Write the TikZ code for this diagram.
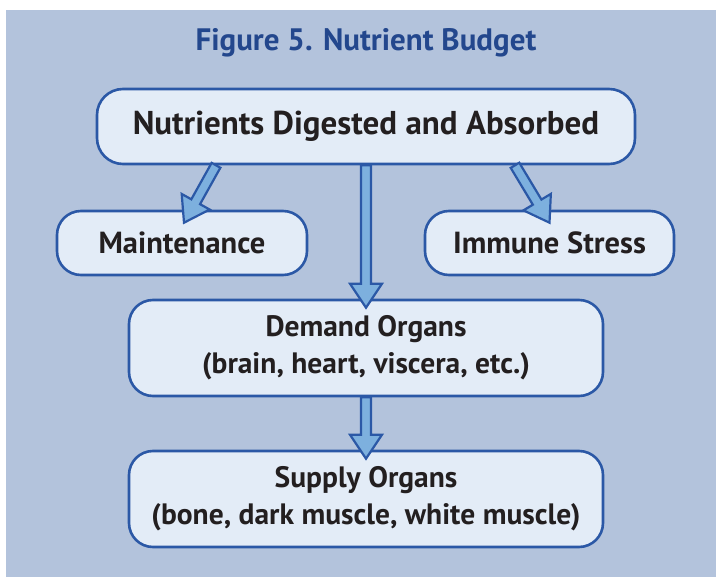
\documentclass[tikz,border=0pt]{standalone}
\usepackage{fontspec}
\setmainfont{PT Sans}
\usetikzlibrary{calc}
\definecolor{bgblue}{HTML}{B3C3DC}
\definecolor{boxfill}{HTML}{E3ECF7}
\definecolor{boxline}{HTML}{2B58A6}
\definecolor{arrowfill}{HTML}{7DB0DE}
\definecolor{titleblue}{HTML}{23478D}
\definecolor{txt}{HTML}{231F20}
\newcommand{\fatarrow}[2]{%
  \coordinate (hb) at ($(#2)!24pt!(#1)$);
  \draw[flow] ($(#1)!5pt!90:(#2)$) -- ($(hb)!5pt!-90:(#1)$) -- ($(hb)!16pt!-90:(#1)$)
    -- (#2) -- ($(hb)!16pt!90:(#1)$) -- ($(hb)!5pt!90:(#1)$) -- ($(#1)!5pt!-90:(#2)$) -- cycle;
}

\begin{document}
\begin{tikzpicture}[x=1pt,y=-1pt,
  box/.style={draw=boxline,line width=2.6pt,fill=boxfill,rounded corners=24pt,
    inner sep=0pt,align=center,text=txt,font=\bfseries\fontsize{29.5}{37}\selectfont},
  flow/.style={draw=boxline,line width=2.2pt,fill=arrowfill,line join=miter}]
\useasboundingbox (0,0) rectangle (716,577);
\fill[bgblue] (6,10) rectangle (716,577);
\node[text=titleblue,font=\bfseries\fontsize{31}{36}\selectfont] (title) at (366,43) {Figure 5. Nutrient Budget};
\node[box,minimum width=538,minimum height=75,rounded corners=26pt,font=\bfseries\fontsize{33}{38}\selectfont] (nutr) at (366,126.5) {Nutrients Digested and Absorbed};
\node[box,minimum width=250,minimum height=64,font=\bfseries\fontsize{30.5}{37}\selectfont] (maint) at (182,243) {Maintenance};
\node[box,minimum width=249,minimum height=64,font=\bfseries\fontsize{30.5}{37}\selectfont] (immune) at (549.5,243) {Immune Stress};
\node[box,minimum width=474,minimum height=96] (demand) at (366,348) {Demand Organs\\(brain, heart, viscera, etc.)};
\node[box,minimum width=474,minimum height=96] (supply) at (366,499) {Supply Organs\\(bone, dark muscle, white muscle)};
\coordinate (m0) at ($(nutr.south)+(-150,0)$);
\coordinate (m1) at ($(maint.north)+(2,13)$);
\coordinate (i0) at ($(nutr.south)+(149,0)$);
\coordinate (i1) at ($(immune.north)+(0,13)$);
\coordinate (d1) at ($(demand.north)+(0,9)$);
\coordinate (s1) at ($(supply.north)+(0,9)$);
\fatarrow{m0}{m1}
\fatarrow{i0}{i1}
\fatarrow{nutr.south}{d1}
\fatarrow{demand.south}{s1}
\end{tikzpicture}
\end{document}
